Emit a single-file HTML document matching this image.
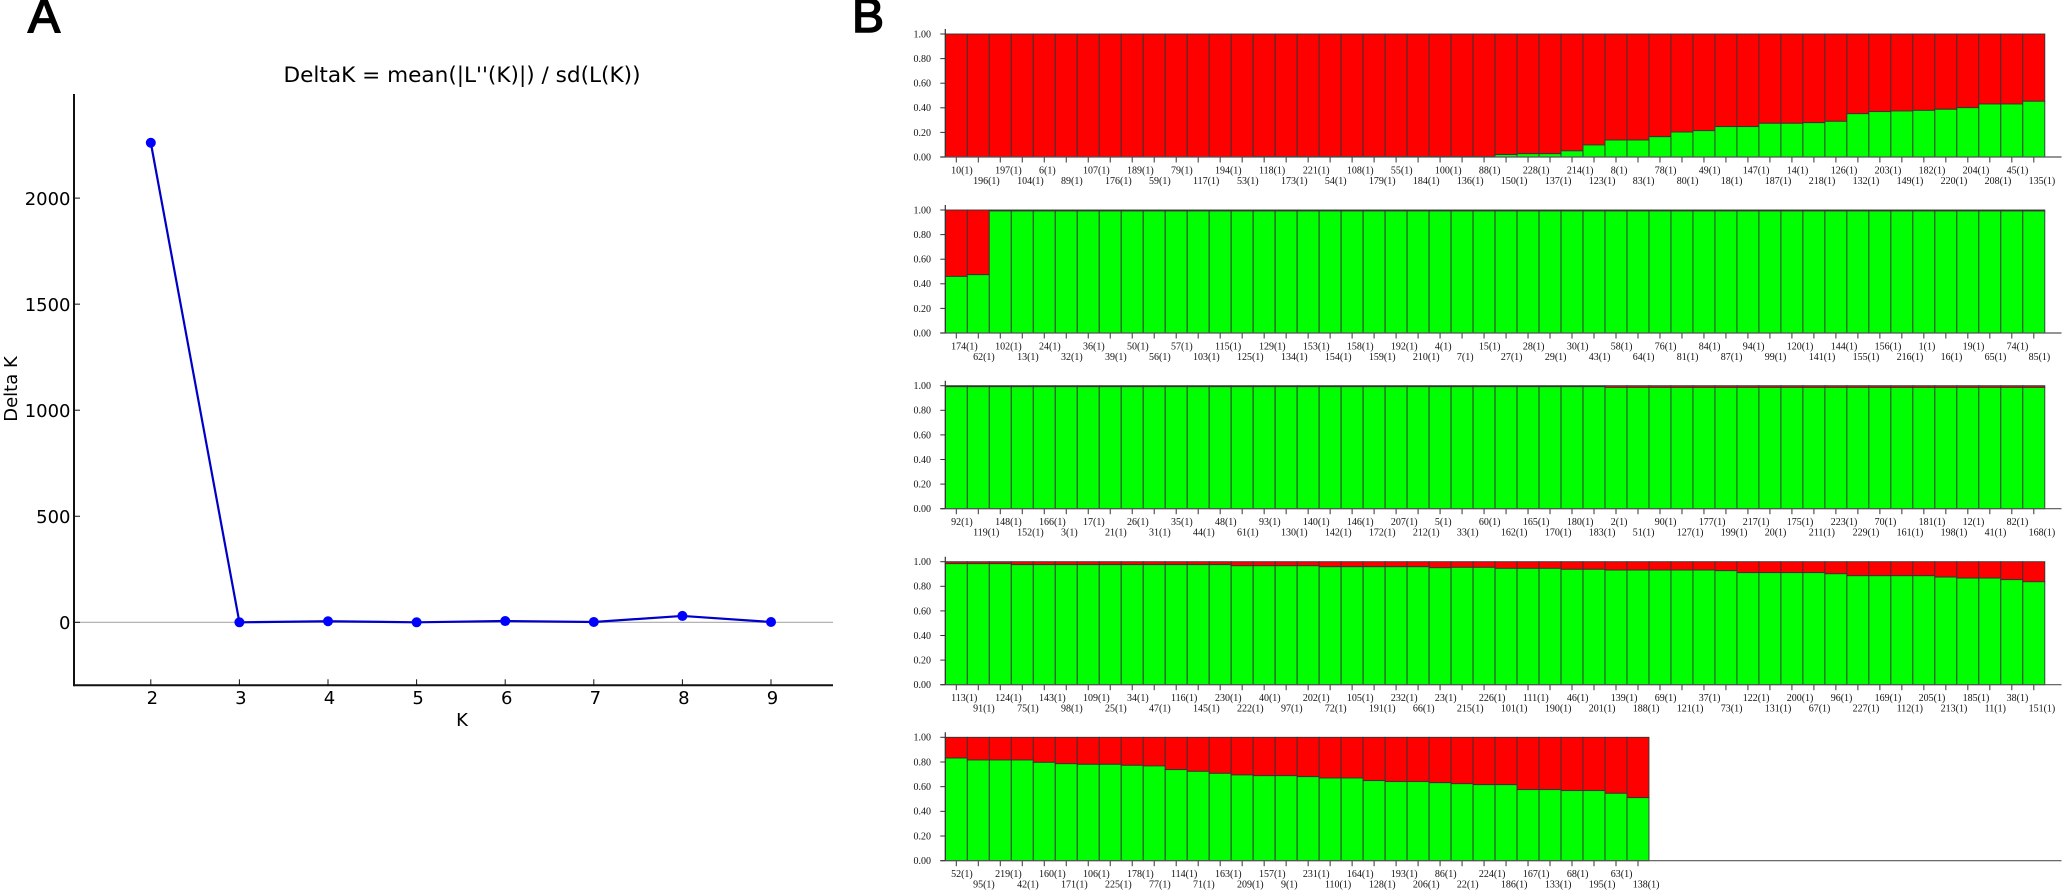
<!DOCTYPE html>
<html>
<head>
<meta charset="utf-8">
<title>DeltaK and structure plots</title>
<style>
html,body{margin:0;padding:0;background:#fff;}
svg{display:block;}
.dj{font-family:"DejaVu Sans",sans-serif;fill:#000;}
.panel{font-family:"Liberation Sans",sans-serif;fill:#000;font-size:48px;stroke:#000;stroke-width:1.6px;}
.st{font-family:"Liberation Serif",serif;font-size:10px;fill:#111;}
</style>
</head>
<body>
<svg id="root" xmlns="http://www.w3.org/2000/svg" width="2065" height="892" viewBox="0 0 2065 892">
  <defs>
    <filter id="soft" filterUnits="userSpaceOnUse" x="0" y="0" width="2065" height="892" color-interpolation-filters="sRGB">
      <feGaussianBlur stdDeviation="0.3"/>
    </filter>
  </defs>
  <rect x="0" y="0" width="2065" height="892" fill="#fff"/>
  <text class="panel" x="28" y="32">A</text>
  <text class="panel" x="852" y="32">B</text>
  <g id="panelA" filter="url(#soft)">
    <text class="dj" x="462" y="82" font-size="21.6" text-anchor="middle">DeltaK = mean(|L''(K)|) / sd(L(K))</text>
    <text class="dj" x="462" y="726" font-size="18" text-anchor="middle">K</text>
    <text class="dj" x="0" y="0" font-size="18" text-anchor="middle" transform="translate(17,389) rotate(-90)">Delta K</text>
  </g>
  <g id="panelB" filter="url(#soft)"></g>
</svg>
<script>
// ---------- Panel A data ----------
const kValues = [2, 3, 4, 5, 6, 7, 8, 9];
const deltaK = [2261, 0, 5, 0, 6, 1.5, 30, 1.5];
const deltaTicks = [0, 500, 1000, 1500, 2000];

// ---------- Panel B data ----------
const proportionTicks = [0, 0.2, 0.4, 0.6, 0.8, 1];

const row1Ids = [10,196,197,104,6,89,107,176,189,59,79,117,194,53,118,173,221,54,108,179,55,184,100,136,88,150,228,137,214,123,8,83,78,80,49,18,147,187,14,218,126,132,203,149,182,220,204,208,45,135];
const row1Green = [0,0,0,0,0,0,0,0,0,0,0,0,0,0,0.003,0.003,0.003,0.003,0.003,0.003,0.003,0.003,0.003,0.003,0.004,0.02,0.027,0.027,0.05,0.098,0.138,0.138,0.165,0.203,0.214,0.247,0.247,0.274,0.274,0.279,0.29,0.352,0.369,0.374,0.379,0.388,0.401,0.431,0.431,0.453];

const row2Ids = [174,62,102,13,24,32,36,39,50,56,57,103,115,125,129,134,153,154,158,159,192,210,4,7,15,27,28,29,30,43,58,64,76,81,84,87,94,99,120,141,144,155,156,216,1,16,19,65,74,85];
const row2Green = [0.46,0.474,0.992,0.992,0.992,0.992,0.992,0.992,0.992,0.992,0.992,0.992,0.992,0.992,0.992,0.992,0.992,0.992,0.992,0.992,0.992,0.992,0.992,0.992,0.992,0.992,0.992,0.992,0.992,0.992,0.992,0.992,0.992,0.992,0.992,0.992,0.992,0.992,0.992,0.992,0.992,0.992,0.992,0.992,0.992,0.992,0.992,0.992,0.992,0.992];

const row3Ids = [92,119,148,152,166,3,17,21,26,31,35,44,48,61,93,130,140,142,146,172,207,212,5,33,60,162,165,170,180,183,2,51,90,127,177,199,217,20,175,211,223,229,70,161,181,198,12,41,82,168];
const row3Green = [0.992,0.992,0.992,0.992,0.992,0.992,0.992,0.992,0.992,0.992,0.992,0.992,0.992,0.992,0.992,0.992,0.992,0.992,0.992,0.992,0.992,0.992,0.992,0.992,0.992,0.992,0.992,0.992,0.992,0.992,0.986,0.986,0.986,0.986,0.986,0.986,0.986,0.986,0.986,0.986,0.986,0.986,0.986,0.986,0.986,0.986,0.986,0.986,0.986,0.986];

const row4Ids = [113,91,124,75,143,98,109,25,34,47,116,145,230,222,40,97,202,72,105,191,232,66,23,215,226,101,111,190,46,201,139,188,69,121,37,73,122,131,200,67,96,227,169,112,205,213,185,11,38,151];
const row4Green = [0.984,0.984,0.984,0.976,0.976,0.976,0.976,0.976,0.976,0.976,0.976,0.976,0.976,0.967,0.967,0.967,0.967,0.959,0.959,0.959,0.959,0.959,0.951,0.954,0.954,0.946,0.946,0.946,0.938,0.938,0.932,0.932,0.932,0.932,0.932,0.927,0.911,0.911,0.911,0.911,0.902,0.886,0.886,0.886,0.886,0.875,0.867,0.867,0.854,0.837];

const row5Ids = [52,95,219,42,160,171,106,225,178,77,114,71,163,209,157,9,231,110,164,128,193,206,86,22,224,186,167,133,68,195,63,138];
const row5Green = [0.832,0.816,0.816,0.816,0.797,0.786,0.781,0.781,0.773,0.768,0.738,0.724,0.708,0.695,0.689,0.689,0.681,0.67,0.67,0.649,0.641,0.641,0.632,0.624,0.616,0.616,0.576,0.576,0.568,0.568,0.546,0.511];

const NS = 'http://www.w3.org/2000/svg';
function mk(tag, parent, attrs, text) {
  const el = document.createElementNS(NS, tag);
  for (const a in attrs) el.setAttribute(a, attrs[a]);
  if (text !== undefined) el.textContent = text;
  parent.appendChild(el);
  return el;
}

// ---------- Panel A axes ----------
const panelA = document.getElementById('panelA');
const xK = k => 150.8 + (k - 2) * 88.6;
const yD = v => 622.3 - v * 0.2121;
const aLeft = 74, aRight = 833, aTop = 94, aBottom = 685.3;

const zeroLine = mk('line', panelA, {x1: aLeft, x2: aRight, y1: yD(0), y2: yD(0), stroke: '#aaa', 'stroke-width': 1.2});



const yAxisA = mk('line', panelA, {x1: aLeft, x2: aLeft, y1: aTop, y2: aBottom + 1, stroke: '#111', 'stroke-width': 2});



const xAxisA = mk('line', panelA, {x1: aLeft, x2: aRight, y1: aBottom, y2: aBottom, stroke: '#111', 'stroke-width': 2});



deltaTicks.forEach(v => {
  const tick = mk('line', panelA, {x1: aLeft, x2: aLeft + 6, y1: yD(v), y2: yD(v), stroke: '#111', 'stroke-width': 1});
  
  
  const label = mk('text', panelA, {x: 70.5, y: yD(v) + 6.8, 'font-size': 18, 'text-anchor': 'end', class: 'dj'}, String(v));
  
  
});

kValues.forEach(k => {
  const tick = mk('line', panelA, {x1: xK(k), x2: xK(k), y1: aBottom - 6, y2: aBottom, stroke: '#111', 'stroke-width': 1});
  
  
  const label = mk('text', panelA, {x: xK(k) + 1.5, y: 704, 'font-size': 18, 'text-anchor': 'middle', class: 'dj'}, String(k));
  
  
});

const deltaLine = mk('polyline', panelA, {
  points: kValues.map((k, i) => xK(k) + ',' + yD(deltaK[i])).join(' '),
  fill: 'none', stroke: '#0000c8', 'stroke-width': 2.2
});



kValues.forEach((k, i) => {
  const pt = mk('circle', panelA, {cx: xK(k), cy: yD(deltaK[i]), r: 5, fill: '#0000ff'});
  
  
});

// ---------- Panel B ----------
const panelB = document.getElementById('panelB');
const bLeft = 945.3, barW = 21.99, bEnd = 2061.5;
const xBar = i => bLeft + i * barW;

function drawRow(name, ids, green, top, bottom) {
  const g = mk('g', panelB, {});
  
  
  const yP = p => bottom - p * (bottom - top);

  ids.forEach((id, i) => {
    const x = xBar(i), gy = yP(green[i]);
    const red = mk('rect', g, {x: x, y: top, width: barW, height: gy - top, fill: '#ff0000', stroke: '#333', 'stroke-width': 0.9});
    
    
    const grn = mk('rect', g, {x: x, y: gy, width: barW, height: bottom - gy, fill: '#00ff00', stroke: '#333', 'stroke-width': 0.9});
    
    

    const tick = mk('line', g, {x1: x + barW / 2, x2: x + barW / 2, y1: bottom, y2: bottom + 5.5, stroke: '#333', 'stroke-width': 1});
    
    
    const label = mk('text', g, {x: x + barW / 2 - 5.2, y: bottom + (i % 2 === 0 ? 16.5 : 27), class: 'st'}, id + '(1)');
    
    
  });

  const yAxis = mk('line', g, {x1: bLeft, x2: bLeft, y1: top - 5, y2: bottom, stroke: '#333', 'stroke-width': 1.2});
  
  
  const base = mk('line', g, {x1: bLeft - 5, x2: bEnd, y1: bottom, y2: bottom, stroke: '#555', 'stroke-width': 1.2});
  
  

  proportionTicks.forEach(p => {
    const tick = mk('line', g, {x1: bLeft - 5, x2: bLeft, y1: yP(p), y2: yP(p), stroke: '#333', 'stroke-width': 1});
    
    
    const label = mk('text', g, {x: 931, y: yP(p) + 3.4, 'text-anchor': 'end', class: 'st'}, p.toFixed(2));
    
    
  });
}

drawRow('structure-row-1', row1Ids, row1Green, 34, 157);
drawRow('structure-row-2', row2Ids, row2Green, 210, 333);
drawRow('structure-row-3', row3Ids, row3Green, 385.7, 508.7);
drawRow('structure-row-4', row4Ids, row4Green, 561.7, 684.7);
drawRow('structure-row-5', row5Ids, row5Green, 737.3, 860.7);
</script>
</body>
</html>
